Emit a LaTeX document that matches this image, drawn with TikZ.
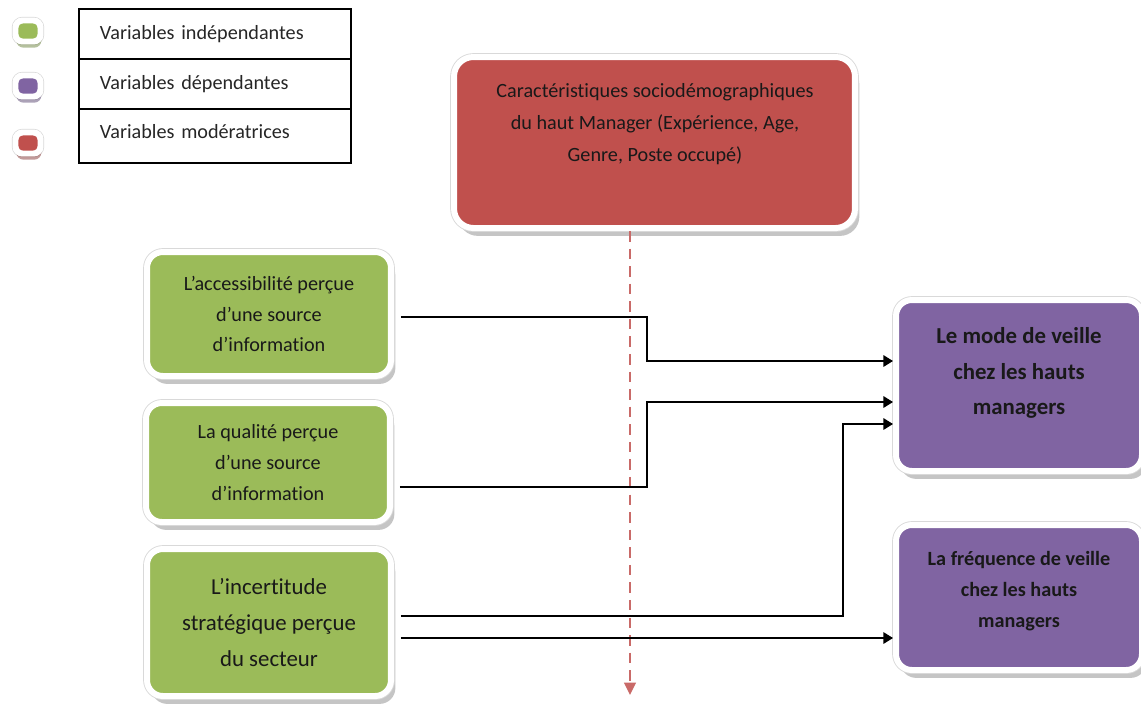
\documentclass[tikz,border=0pt]{standalone}
\usepackage{fontspec}
\setmainfont{Carlito}[Ligatures=NoCommon]
\usetikzlibrary{arrows.meta,shadows,positioning}
\definecolor{vindep}{HTML}{9BBB59}
\definecolor{vdep}{HTML}{8064A2}
\definecolor{vmod}{HTML}{C0504D}
\begin{document}
\begin{tikzpicture}[x=0.02cm,y=-0.02cm,
    varbox/.style={draw=white, line width=3.4pt, rounded corners=9pt, align=center,
      text=black!90, inner sep=0pt,
      drop shadow={shadow xshift=2.5pt, shadow yshift=-4.5pt, fill=black!45, opacity=0.5},
      preaction={draw=black!15, line width=4.4pt}},
    legrow/.style={draw, line width=0.8pt, outer sep=0pt, minimum width=5.44cm,
      text width=4.6cm, inner xsep=0.42cm, align=left, text=black!85,
      font=\fontsize{11.5}{14}\selectfont},
    tile/.style={draw=white, line width=3.4pt, rounded corners=4pt, minimum width=0.5cm,
      minimum height=0.42cm, inner sep=0pt, preaction={draw=black!15, line width=4.2pt}},
    conn/.style={line width=1pt, -{Triangle[length=5.5pt,width=6.5pt]}}]
  \useasboundingbox (0,0) rectangle (1141,704);
  % legende
  \node[tile, fill=vindep, drop shadow={shadow xshift=0.5pt, shadow yshift=-3.5pt, fill=vindep!70!black, opacity=0.5}] (tind) at (28,31) {};
  \node[tile, fill=vdep, drop shadow={shadow xshift=0.5pt, shadow yshift=-3.5pt, fill=vdep!70!black, opacity=0.5}] (tdep) at (28,86) {};
  \node[tile, fill=vmod, drop shadow={shadow xshift=0.5pt, shadow yshift=-3.5pt, fill=vmod!70!black, opacity=0.5}] (tmod) at (28,143) {};
  \node[legrow, anchor=north west, minimum height=1cm] (lind) at (79,9) {Variables indépendantes};
  \node[legrow, below=0pt of lind, minimum height=1cm] (ldep) {Variables dépendantes};
  \node[legrow, below=0pt of ldep, minimum height=1.08cm, text depth=0.18cm] (lmod) {Variables modératrices};
  % variable moderatrice
  \node[varbox, fill=vmod, rounded corners=11pt, minimum width=8.02cm, minimum height=3.42cm] (carac) at (654.5,142.5) {};
  \node[align=center, text=black!90, font=\fontsize{11.5}{18}\selectfont] (caractxt) at (655,124) {Caractéristiques sociodémographiques\\du haut Manager (Expérience, Age,\\Genre, Poste occupé)};
  % variables independantes
  \node[varbox, fill=vindep, minimum width=4.88cm, minimum height=2.48cm, font=\fontsize{11.5}{17.6}\selectfont] (acces) at (269,314) {L’accessibilité perçue\\d’une source\\d’information};
  \node[varbox, fill=vindep, minimum width=4.88cm, minimum height=2.38cm, font=\fontsize{11.5}{17.6}\selectfont] (qualite) at (268,462.5) {La qualité perçue\\d’une source\\d’information};
  \node[varbox, fill=vindep, minimum width=4.88cm, minimum height=2.94cm, font=\fontsize{13}{20.4}\selectfont] (incert) at (269,622.5) {L’incertitude\\stratégique perçue\\du secteur};
  % variables dependantes
  \node[varbox, fill=vdep, minimum width=4.92cm, minimum height=3.42cm] (mode) at (1019,385.5) {};
  \node[align=center, text=black!90, font=\bfseries\fontsize{13}{20}\selectfont] (modetxt) at (1019,373) {Le mode de veille\\chez les hauts\\managers};
  \node[varbox, fill=vdep, minimum width=4.92cm, minimum height=2.9cm] (freq) at (1019,597.5) {};
  \node[align=center, text=black!90, font=\bfseries\fontsize{11.5}{17.6}\selectfont] (freqtxt) at (1019,591.5) {La fréquence de veille\\chez les hauts\\managers};
  % liens
  \coordinate (modend) at (630,695);
  \draw[vmod!85, line width=1.3pt, dash pattern=on 6pt off 4pt, -{Triangle[length=7pt,width=6.5pt]}] (carac.south -| 630,0) -- (modend);
  \draw[conn, shorten <=4pt] (acces.east |- 0,317) -- (647,317) |- (mode.west |- 0,361);
  \draw[conn, shorten <=4pt] (qualite.east |- 0,487) -- (647,487) |- (mode.west |- 0,402);
  \draw[conn, shorten <=4pt] (incert.east |- 0,616) -- (843,616) |- (mode.west |- 0,424);
  \draw[conn, shorten <=4pt] (incert.east |- 0,638) -- (freq.west |- 0,638);
\end{tikzpicture}
\end{document}
